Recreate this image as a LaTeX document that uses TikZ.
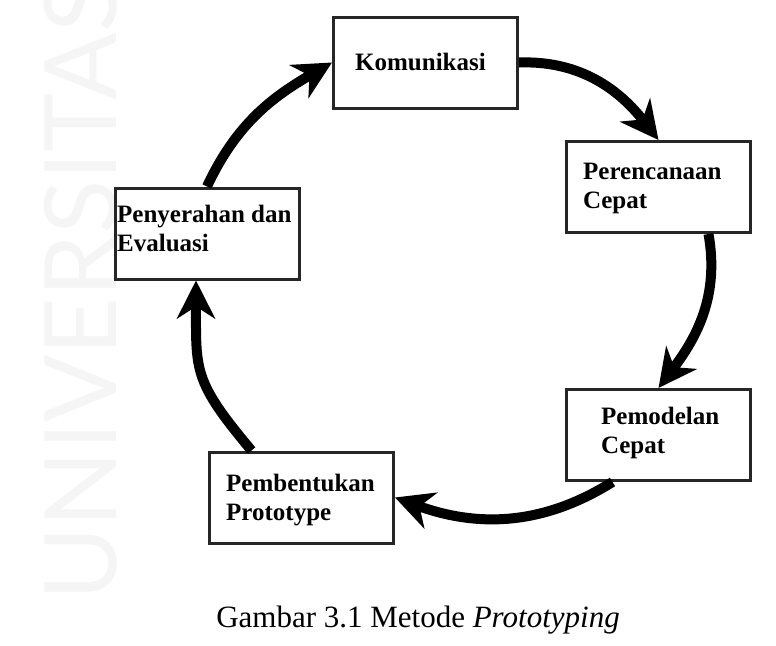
\documentclass[tikz,border=0pt]{standalone}
\usepackage{fontspec}
\setmainfont{Liberation Serif}
\newfontfamily\wmfont{Lato}
\usetikzlibrary{arrows.meta}
\begin{document}
\begin{tikzpicture}[x=1pt,y=1pt,
  stagebox/.style={draw=black!85, line width=3pt, minimum width=184pt,
    minimum height=91pt, inner sep=0pt},
  stagetext/.style={font=\fontsize{25}{29}\selectfont\bfseries, align=left,
    inner sep=0pt, anchor=base west},
  flow/.style={line width=10pt, -{Stealth[length=38pt,width=38pt,inset=12pt]}}]
\useasboundingbox (0,0) rectangle (776,-645);

% faint watermark running up the left margin
\node[rotate=90, anchor=base west, inner sep=0pt, text=black!4,
  font=\wmfont\fontsize{100}{100}\selectfont] (wm) at (116,-601) {UNIVERSITAS};

% stages of the cycle
\node[stagebox] (kom) at (425.5,-62.5) {};
\node[stagebox] (per) at (658.5,-187) {};
\node[stagebox] (pem) at (658.5,-435) {};
\node[stagebox] (pro) at (301.5,-497.5) {};
\node[stagebox] (eva) at (207,-233.5) {};

% labels; a two-line label sits on the baseline of its last line
\node[stagetext] (kom-t) at (355,-70) {Komunikasi};
\node[stagetext] (per-t) at (583,-208) {Perencanaan\\Cepat};
\node[stagetext] (pem-t) at (601,-453) {Pemodelan\\Cepat};
\node[stagetext] (pro-t) at (226,-520) {Pembentukan\\Prototype};
\node[stagetext] (eva-t) at (117,-251) {Penyerahan dan\\Evaluasi};

% curved arrows linking the stages
\draw[flow] (kom.east) to[out=2,in=128] (per.north);
\draw[flow] ([xshift=50pt]per.south) to[out=-80,in=53] (pem.north);
\draw[flow] ([xshift=-46pt]pem.south) to[out=-148,in=-20] (pro.east);
\draw[flow] ([xshift=-50pt]pro.north) to[out=130,in=-90,looseness=1.3] ([xshift=-11pt]eva.south);
\draw[flow] (eva.north) to[out=65,in=210] (kom.west);

% caption
\node[anchor=base, inner sep=0pt, font=\fontsize{31}{31}\selectfont] (cap)
  at (418,-627) {Gambar 3.1 Metode \textit{Prototyping}};
\end{tikzpicture}
\end{document}
